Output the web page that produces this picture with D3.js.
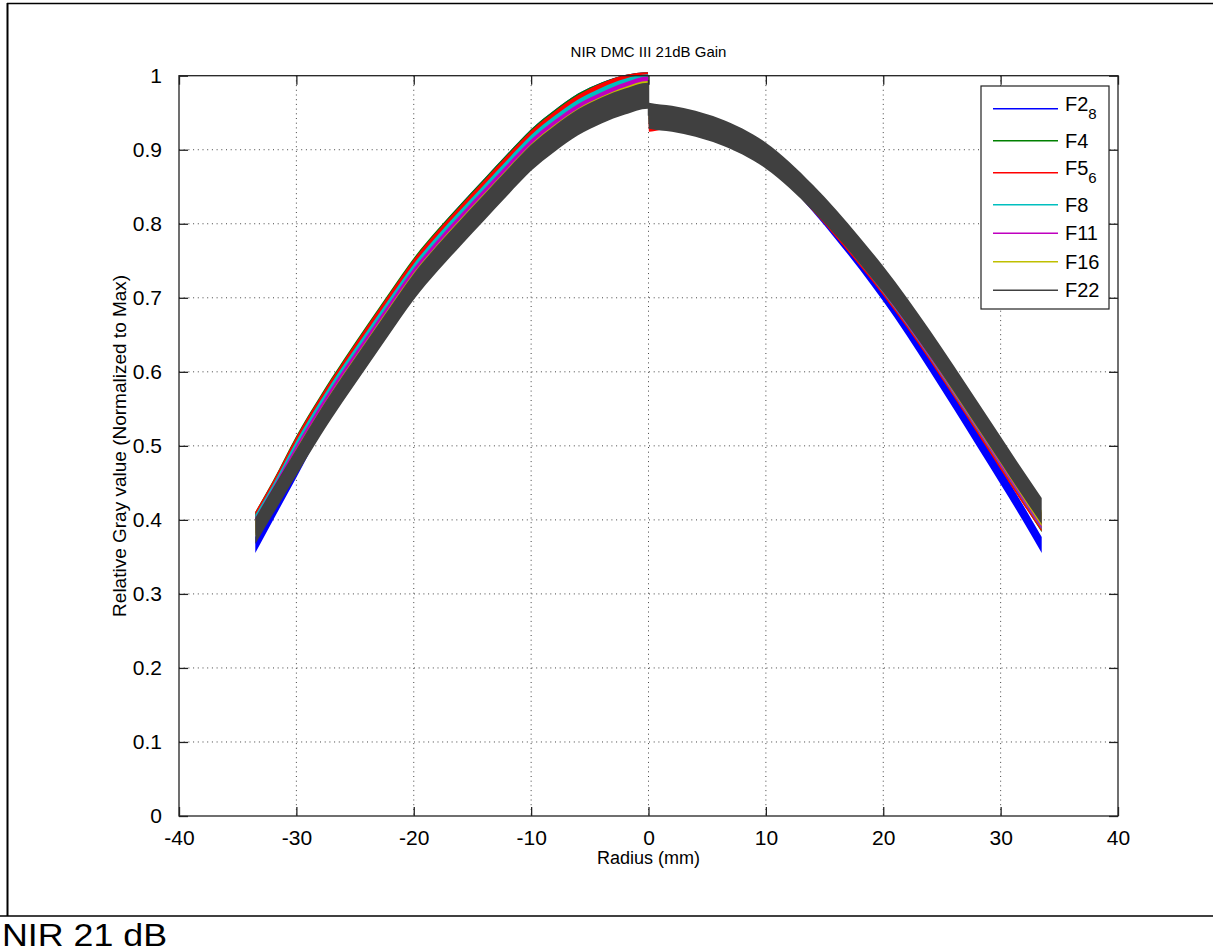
<!DOCTYPE html>
<html><head><meta charset="utf-8">
<script src="https://cdn.jsdelivr.net/npm/d3@7"></script>
<style>
html,body{margin:0;padding:0;background:#fff;}
svg{display:block;font-family:Arial,"Liberation Sans",sans-serif;}
</style></head>
<body>
<svg id="chart" width="1213" height="952"></svg>
<script>
// ---------------- DATA ----------------
const titleText = "NIR DMC III 21dB Gain";
const xLabelText = "Radius (mm)";
const yLabelText = "Relative Gray value (Normalized to Max)";
const captionText = "NIR 21 dB";

const xTicks = [-40, -30, -20, -10, 0, 10, 20, 30, 40];
const xTickLabels = ["-40", "-30", "-20", "-10", "0", "10", "20", "30", "40"];
const yTicks = [0, 0.1, 0.2, 0.3, 0.4, 0.5, 0.6, 0.7, 0.8, 0.9, 1];
const yTickLabels = ["0", "0.1", "0.2", "0.3", "0.4", "0.5", "0.6", "0.7", "0.8", "0.9", "1"];

// radius (mm) sample positions
const radius = [-33.5, -32, -30, -28, -26, -24, -22, -20, -18, -16, -14, -12, -10, -8, -6, -4, -2, -0.05,
                0.05, 2, 4, 6, 8, 10, 12, 14, 16, 18, 20, 22, 24, 26, 28, 30, 32, 33.5];

const seriesNames = ["F2", "F4", "F5", "F8", "F11", "F16", "F22"];
const seriesSubs  = ["8", "", "6", "", "", "", ""];

const valsF2 = [0.366, 0.410, 0.468, 0.528, 0.586, 0.639, 0.690, 0.740, 0.780, 0.816, 0.850, 0.884, 0.917, 0.943, 0.965, 0.980, 0.990, 0.994,
                0.948, 0.945, 0.939, 0.929, 0.914, 0.892, 0.862, 0.827, 0.789, 0.749, 0.706, 0.660, 0.611, 0.561, 0.510, 0.459, 0.407, 0.366];
const valsF4 = [0.400, 0.442, 0.503, 0.556, 0.605, 0.652, 0.698, 0.743, 0.781, 0.816, 0.850, 0.884, 0.917, 0.943, 0.965, 0.980, 0.990, 0.994,
                0.946, 0.942, 0.935, 0.925, 0.911, 0.890, 0.862, 0.829, 0.793, 0.755, 0.715, 0.672, 0.626, 0.578, 0.529, 0.480, 0.431, 0.394];
const valsF5 = [0.400, 0.441, 0.501, 0.554, 0.603, 0.650, 0.696, 0.741, 0.779, 0.814, 0.848, 0.882, 0.915, 0.941, 0.963, 0.979, 0.990, 0.994,
                0.935, 0.940, 0.934, 0.924, 0.910, 0.889, 0.861, 0.828, 0.792, 0.754, 0.714, 0.671, 0.625, 0.577, 0.528, 0.479, 0.430, 0.395];
const valsF8 = [0.396, 0.437, 0.496, 0.549, 0.598, 0.644, 0.690, 0.735, 0.773, 0.808, 0.842, 0.876, 0.909, 0.935, 0.957, 0.973, 0.985, 0.991,
                0.946, 0.942, 0.935, 0.925, 0.911, 0.891, 0.863, 0.830, 0.795, 0.757, 0.717, 0.674, 0.628, 0.580, 0.532, 0.483, 0.434, 0.398];
const valsF11 = [0.392, 0.433, 0.490, 0.543, 0.592, 0.638, 0.684, 0.729, 0.767, 0.802, 0.836, 0.870, 0.903, 0.929, 0.951, 0.967, 0.980, 0.988,
                 0.946, 0.942, 0.935, 0.925, 0.911, 0.891, 0.863, 0.831, 0.796, 0.758, 0.718, 0.675, 0.629, 0.581, 0.533, 0.484, 0.435, 0.399];
const valsF16 = [0.389, 0.429, 0.485, 0.537, 0.586, 0.632, 0.678, 0.723, 0.761, 0.796, 0.830, 0.864, 0.897, 0.923, 0.945, 0.961, 0.974, 0.982,
                 0.946, 0.942, 0.935, 0.925, 0.911, 0.891, 0.864, 0.832, 0.797, 0.759, 0.719, 0.677, 0.631, 0.583, 0.535, 0.487, 0.438, 0.402];
const valsF22 = [0.385, 0.425, 0.478, 0.530, 0.578, 0.624, 0.670, 0.715, 0.753, 0.788, 0.822, 0.856, 0.889, 0.915, 0.937, 0.953, 0.965, 0.973,
                 0.946, 0.942, 0.935, 0.925, 0.911, 0.892, 0.866, 0.835, 0.801, 0.764, 0.725, 0.683, 0.638, 0.591, 0.543, 0.495, 0.447, 0.412];

const seriesValues = [valsF2, valsF4, valsF5, valsF8, valsF11, valsF16, valsF22];

// ---------------- STYLE / LAYOUT ----------------
const colors = ["#0000ff", "#008000", "#ff0000", "#00bfbf", "#bf00bf", "#bfbf00", "#404040"];
const bandHalf = [8, 8, 8, 8, 8, 8, 13];   // px half-thickness of the noisy traces

const W = 1213, H = 952;
const plot = {left: 179, right: 1118, top: 75.7, bottom: 816};

const svg = d3.select("#chart");

const x = d3.scaleLinear().domain([-40, 40]).range([plot.left, plot.right]);
const y = d3.scaleLinear().domain([0, 1]).range([plot.bottom, plot.top]);

// outer frame
svg.append("line").attr("x1", 7).attr("x2", W).attr("y1", 3.5).attr("y2", 3.5)
  .attr("stroke", "#000").attr("stroke-width", 1.5);
svg.append("line").attr("x1", 7.5).attr("x2", 7.5).attr("y1", 3).attr("y2", 916)
  .attr("stroke", "#000").attr("stroke-width", 2);
svg.append("line").attr("x1", 0).attr("x2", W).attr("y1", 916).attr("y2", 916)
  .attr("stroke", "#000").attr("stroke-width", 1.5);

// caption
svg.append("text").attr("x", 2).attr("y", 946).attr("font-size", 32).attr("fill", "#000")
  .attr("textLength", 165).attr("lengthAdjust", "spacingAndGlyphs")
  .text(captionText);

// grid
const grid = svg.append("g");
xTicks.filter(t => t > -40 && t < 40).forEach(t => {
  grid.append("line").attr("x1", x(t)).attr("x2", x(t)).attr("y1", plot.top).attr("y2", plot.bottom)
    .attr("stroke", "#444").attr("stroke-width", 1).attr("stroke-dasharray", "1,3.7");
});
yTicks.filter(t => t > 0 && t < 1).forEach(t => {
  grid.append("line").attr("x1", plot.left).attr("x2", plot.right).attr("y1", y(t)).attr("y2", y(t))
    .attr("stroke", "#444").attr("stroke-width", 1).attr("stroke-dasharray", "1,3.7");
});

// data bands
const g = svg.append("g");
seriesValues.forEach((vals, i) => {
  const pts = radius.map((r, k) => ({r: r, v: vals[k]}));
  const area = d3.area()
    .x(d => x(d.r))
    .y0(d => y(d.v) + bandHalf[i])
    .y1(d => y(d.v) - bandHalf[i])
    .curve(d3.curveMonotoneX);
  g.append("path").attr("d", area(pts)).attr("fill", colors[i]);
});
// thin jump line at radius 0
g.append("line").attr("x1", x(0)).attr("x2", x(0))
  .attr("y1", y(valsF4[17])).attr("y2", y(valsF22[18]))
  .attr("stroke", colors[6]).attr("stroke-width", 1.5);

// axes box with inward ticks
const axisColor = "#222";
const tickLen = 9;
const ax = svg.append("g");
ax.append("rect").attr("x", plot.left).attr("y", plot.top)
  .attr("width", plot.right - plot.left).attr("height", plot.bottom - plot.top)
  .attr("fill", "none").attr("stroke", axisColor).attr("stroke-width", 1.3);

const xAxisB = d3.axisBottom(x).tickValues(xTicks).tickSize(-tickLen).tickPadding(14)
  .tickFormat((d, i) => xTickLabels[i]);
const xAxisT = d3.axisTop(x).tickValues(xTicks).tickSize(-tickLen).tickFormat("");
const yAxisL = d3.axisLeft(y).tickValues(yTicks).tickSize(-tickLen).tickPadding(17)
  .tickFormat((d, i) => yTickLabels[i]);
const yAxisR = d3.axisRight(y).tickValues(yTicks).tickSize(-tickLen).tickFormat("");

function styleAxis(sel) {
  sel.select(".domain").remove();
  sel.selectAll(".tick line").attr("stroke", axisColor).attr("stroke-width", 1.3);
  sel.selectAll(".tick text").attr("fill", "#000").attr("font-size", 21)
    .attr("font-family", "Arial, 'Liberation Sans', sans-serif");
}
ax.append("g").attr("transform", `translate(0,${plot.bottom})`).call(xAxisB).call(styleAxis);
ax.append("g").attr("transform", `translate(0,${plot.top})`).call(xAxisT).call(styleAxis);
ax.append("g").attr("transform", `translate(${plot.left},0)`).call(yAxisL).call(styleAxis);
ax.append("g").attr("transform", `translate(${plot.right},0)`).call(yAxisR).call(styleAxis);

// title and axis labels
svg.append("text").attr("x", (plot.left + plot.right) / 2).attr("y", 57)
  .attr("text-anchor", "middle").attr("font-size", 15).attr("fill", "#000").text(titleText);
svg.append("text").attr("x", (plot.left + plot.right) / 2).attr("y", 864)
  .attr("text-anchor", "middle").attr("font-size", 18).attr("fill", "#000").text(xLabelText);
svg.append("text")
  .attr("transform", `translate(126,${(plot.top + plot.bottom) / 2}) rotate(-90)`)
  .attr("text-anchor", "middle").attr("font-size", 19).attr("fill", "#000").text(yLabelText);

// legend
const leg = svg.append("g");
leg.append("rect").attr("x", 981).attr("y", 86).attr("width", 128).attr("height", 223)
  .attr("fill", "#fff").attr("stroke", axisColor).attr("stroke-width", 1.2);
let ly = 108.7;
seriesNames.forEach((name, i) => {
  if (i > 0) ly += 28.5 + (seriesSubs[i - 1] ? 3.5 : 0) + (seriesSubs[i] ? 3.5 : 0);
  leg.append("line").attr("x1", 993).attr("x2", 1058).attr("y1", ly).attr("y2", ly)
    .attr("stroke", colors[i]).attr("stroke-width", 1.4);
  const hasSub = !!seriesSubs[i];
  const t = leg.append("text").attr("x", 1065).attr("y", hasSub ? ly - 5 : ly)
    .attr("dy", "0.36em").attr("font-size", 20).attr("fill", "#000");
  t.append("tspan").text(name);
  if (hasSub) t.append("tspan").attr("font-size", 15).attr("dy", "0.55em").text(seriesSubs[i]);
});
</script>
</body></html>
